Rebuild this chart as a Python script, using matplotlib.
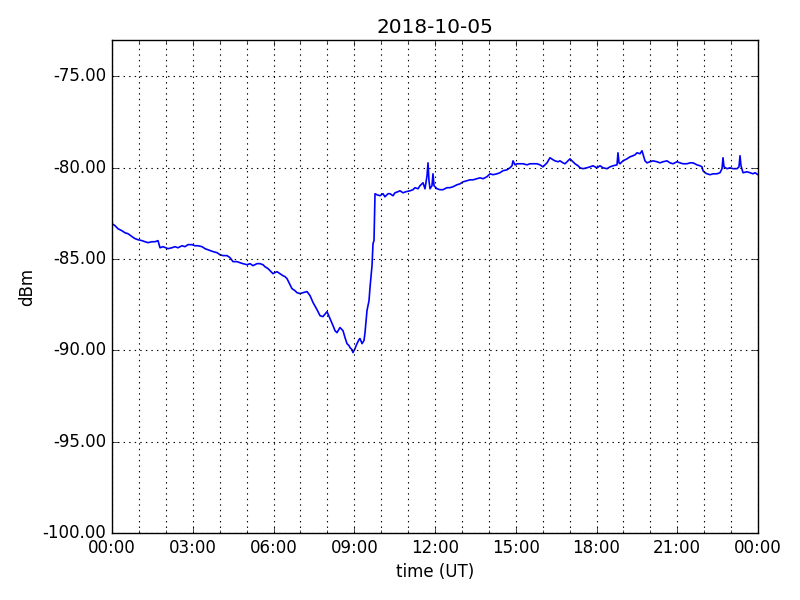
import datetime as dt
import matplotlib
matplotlib.use("Agg")
import matplotlib.pyplot as plt
import matplotlib.dates as mdates
from matplotlib.ticker import FormatStrFormatter

plt.style.use("classic")

title = "2018-10-05"
x_label = "time (UT)"
y_label = "dBm"
y_ticks = [-100, -95, -90, -85, -80, -75]

# minutes after 00:00 UT
minutes = [
    0, 6.7, 13.4, 22.3, 29.0, 35.7, 44.6, 51.3, 58.0, 66.9, 73.6, 80.2, 89.2, 95.9,
    102.5, 107.0, 113.7, 124.8, 133.7, 140.4, 147.1, 156.0, 162.7, 169.4, 178.3,
    185.0, 191.7, 200.6, 207.3, 214.0, 225.1, 234.1, 240.7, 247.4, 256.3, 263.0,
    269.7, 278.6, 285.3, 292.0, 300.9, 307.6, 314.3, 323.2, 329.9, 336.6, 341.1,
    347.7, 352.2, 358.9, 363.3, 367.8, 374.5, 381.2, 385.6, 390.1, 396.8, 401.2,
    407.9, 412.4, 419.1, 425.8, 434.7, 441.4, 448.1, 457.0, 463.7, 470.3, 479.3,
    486.0, 492.6, 497.1, 501.5, 508.2, 514.9, 519.4, 523.8, 528.3, 530.5, 535.0,
    537.2, 541.7, 546.1, 550.6, 552.8, 557.3, 561.7, 564.0, 568.4, 572.9, 575.1,
    579.6, 581.8, 584.0, 586.3, 590.7, 597.4, 604.1, 608.5, 615.2, 619.7, 626.4,
    630.8, 637.5, 642.0, 648.7, 655.4, 664.3, 671.0, 675.4, 682.1, 686.6, 693.3,
    697.7, 702.2, 704.4, 706.6, 708.9, 713.3, 715.5, 717.8, 724.5, 731.1, 737.8,
    746.7, 753.4, 760.1, 769.0, 775.7, 782.4, 791.3, 798.0, 804.7, 813.6, 820.3,
    827.0, 835.9, 842.6, 849.3, 858.2, 864.9, 871.6, 880.5, 887.2, 891.6, 893.9,
    898.3, 902.8, 909.5, 916.2, 925.1, 931.8, 938.5, 947.4, 954.1, 960.7, 965.2,
    969.7, 976.3, 983.0, 987.5, 994.2, 998.6, 1005.3, 1009.8, 1016.5, 1020.9,
    1027.6, 1032.1, 1038.8, 1043.2, 1049.9, 1058.8, 1065.5, 1072.2, 1076.7,
    1081.1, 1087.8, 1094.5, 1103.4, 1110.1, 1116.8, 1125.7, 1127.9, 1130.2,
    1132.4, 1139.1, 1148.0, 1154.7, 1161.4, 1165.8, 1170.3, 1177.0, 1181.4,
    1188.1, 1192.6, 1199.3, 1205.9, 1214.9, 1221.5, 1228.2, 1237.2, 1243.8,
    1250.5, 1259.4, 1266.1, 1272.8, 1281.7, 1288.4, 1295.1, 1304.0, 1310.7,
    1315.2, 1317.4, 1321.9, 1326.3, 1333.0, 1339.7, 1348.6, 1355.3, 1359.8,
    1362.0, 1364.2, 1370.9, 1377.6, 1384.3, 1393.2, 1397.6, 1399.9, 1402.1,
    1406.6, 1415.5, 1422.2, 1428.9, 1433.3, 1440.0,
]

dbm = [
    -83.06, -83.17, -83.34, -83.45, -83.56, -83.61, -83.77, -83.88, -83.94, -83.99,
    -84.05, -84.10, -84.05, -84.05, -83.99, -84.38, -84.32, -84.43, -84.38, -84.32,
    -84.38, -84.27, -84.32, -84.21, -84.21, -84.27, -84.27, -84.32, -84.43, -84.49,
    -84.59, -84.65, -84.76, -84.81, -84.81, -84.92, -85.14, -85.14, -85.20, -85.25,
    -85.31, -85.25, -85.36, -85.25, -85.25, -85.31, -85.42, -85.52, -85.63, -85.80,
    -85.74, -85.69, -85.80, -85.91, -85.96, -86.07, -86.40, -86.62, -86.73, -86.84,
    -86.89, -86.84, -86.78, -87.00, -87.38, -87.77, -88.10, -88.15, -87.88, -88.26,
    -88.64, -88.92, -89.03, -88.75, -88.92, -89.30, -89.63, -89.74, -89.85, -89.96,
    -90.12, -89.90, -89.63, -89.41, -89.35, -89.63, -89.46, -89.03, -87.82, -87.28,
    -86.56, -85.36, -84.16, -83.99, -81.42, -81.48, -81.53, -81.42, -81.59, -81.42,
    -81.42, -81.53, -81.37, -81.31, -81.26, -81.37, -81.31, -81.26, -81.20, -81.09,
    -81.15, -80.98, -80.82, -81.15, -80.44, -79.73, -80.71, -81.15, -80.98, -80.33,
    -80.98, -81.15, -81.20, -81.20, -81.09, -81.09, -81.04, -80.93, -80.88, -80.77,
    -80.71, -80.66, -80.66, -80.60, -80.55, -80.60, -80.49, -80.33, -80.38, -80.33,
    -80.27, -80.16, -80.11, -80.00, -79.89, -79.62, -79.84, -79.78, -79.78, -79.78,
    -79.84, -79.78, -79.78, -79.78, -79.84, -79.95, -79.84, -79.73, -79.45, -79.56,
    -79.62, -79.67, -79.62, -79.73, -79.78, -79.62, -79.51, -79.67, -79.78, -79.89,
    -80.00, -80.05, -80.00, -79.95, -79.89, -79.95, -80.00, -79.89, -80.00, -80.05,
    -79.95, -79.89, -79.84, -79.18, -79.73, -79.78, -79.62, -79.51, -79.40, -79.34,
    -79.29, -79.18, -79.23, -79.07, -79.62, -79.73, -79.67, -79.62, -79.67, -79.73,
    -79.67, -79.62, -79.73, -79.78, -79.67, -79.73, -79.78, -79.78, -79.73, -79.73,
    -79.84, -79.89, -79.95, -80.16, -80.27, -80.33, -80.38, -80.33, -80.33, -80.27,
    -80.05, -79.45, -79.95, -80.05, -80.00, -80.05, -80.05, -79.95, -79.34, -79.89,
    -80.27, -80.22, -80.27, -80.33, -80.27, -80.38,
]

base = dt.datetime(2018, 10, 5)
times = [base + dt.timedelta(minutes=m) for m in minutes]

fig = plt.figure(figsize=(8, 6), dpi=100, facecolor="white")
ax = fig.add_axes([0.14, 0.1117, 0.8075, 0.8217])
ax.plot(times, dbm, color="#0000ff", linewidth=1.2)

ax.set_xlim(base, base + dt.timedelta(days=1))
ax.set_ylim(-100, -73)
ax.set_yticks(y_ticks)
ax.yaxis.set_major_formatter(FormatStrFormatter("%.2f"))
ax.xaxis.set_major_locator(mdates.HourLocator(byhour=range(0, 24, 3)))
ax.xaxis.set_minor_locator(mdates.HourLocator())
ax.xaxis.set_major_formatter(mdates.DateFormatter("%H:%M"))

ax.xaxis.grid(True, which="both", linestyle=":", color="black", linewidth=0.8)
ax.yaxis.grid(True, which="major", linestyle=":", color="black", linewidth=0.8)

ax.set_title(title, fontsize=14.4)
ax.set_xlabel(x_label, fontsize=12)
ax.set_ylabel(y_label, fontsize=12)
ax.tick_params(labelsize=12)

fig.savefig("out.png", dpi=100, facecolor="white")
